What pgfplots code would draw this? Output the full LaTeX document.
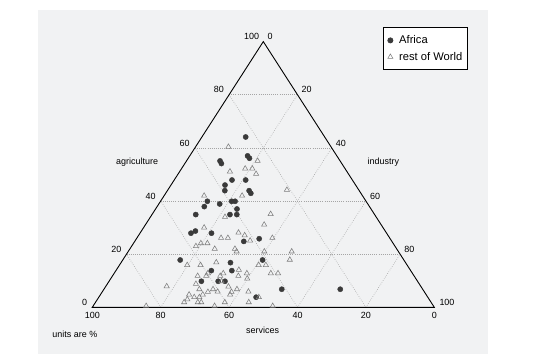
\documentclass[border=0pt]{standalone}
\usepackage{pgfplots}
\pgfplotsset{compat=1.18}
\usepackage{pgfplotstable}
\usepackage{fontspec}
\setmainfont{Liberation Sans}
\definecolor{panel}{RGB}{241,242,243}
\definecolor{afr}{RGB}{58,58,58}
\definecolor{rw}{RGB}{125,125,125}
\definecolor{gridc}{RGB}{165,165,165}
\tikzset{lab/.style={font=\fontsize{9}{10}\selectfont, inner sep=0pt},
  grd/.style={gridc, line width=0.6bp, dash pattern=on 0.6bp off 1.5bp}}

% agriculture (%), industry (%) ; services = 100 - agr - ind
\pgfplotstableread{
agr ind
64.1 12.8
57.0 16.9
56.1 17.9
55.1 9.8
54.1 10.7
47.9 16.9
47.9 20.9
46.0 15.8
43.9 16.8
43.9 23.9
42.9 24.9
39.9 13.7
37.9 13.8
38.9 17.8
39.9 20.8
39.9 21.8
37.0 23.8
34.9 24.8
34.9 22.8
34.9 12.8
28.7 15.8
27.9 14.9
27.9 20.9
25.8 35.9
24.8 31.9
17.8 16.8
17.8 40.9
16.8 32.0
13.8 33.9
13.8 27.9
9.8 27.0
9.8 31.9
9.8 33.9
6.8 52.0
6.8 69.1
3.8 46.0
}\africa

\pgfplotstableread{
agr ind
60.4 9.6
55.1 20.8
51.1 14.7
52.2 18.6
52.2 20.7
50.2 22.8
44.2 34.8
42.0 11.7
42.0 22.8
35.1 34.6
34.0 21.8
31.1 34.7
30.0 17.7
28.1 28.7
27.1 31.0
26.1 24.6
26.1 26.6
26.1 39.6
25.1 33.6
24.1 19.7
24.1 21.6
23.0 18.8
22.0 24.8
22.0 30.7
21.0 31.7
21.0 39.8
21.0 47.8
17.9 48.8
15.9 19.8
15.9 23.7
16.9 27.8
15.9 40.7
15.9 42.8
14.1 35.8
12.8 27.4
11.8 27.4
12.8 31.9
12.8 38.8
11.8 31.5
11.8 24.9
11.8 36.8
10.8 39.9
12.8 45.8
12.8 47.9
7.9 17.8
8.8 25.9
7.8 35.9
6.8 31.9
5.9 33.7
6.8 38.9
6.8 27.9
5.9 42.7
4.8 37.9
5.8 37.8
5.8 30.9
4.8 29.9
4.8 25.9
3.8 27.9
3.8 29.4
3.8 46.8
3.0 26.3
1.9 25.9
1.9 29.9
1.9 30.9
1.9 37.8
1.9 44.8
0.5 15.5
0.5 35.5
0.5 52.5
9.8 32.9
}\restworld

\begin{document}
\begin{tikzpicture}
\path (-92.3bp,-56.7bp) rectangle (447.7bp,307.3bp);
\fill[panel] (-54.3bp,-46.7bp) rectangle (395.7bp,297.3bp);
\begin{axis}[
  at={(0,0)}, anchor=south west,
  x=3.42bp, y=2.657bp,
  xmin=0, xmax=100, ymin=0, ymax=100,
  hide axis, clip=false,
  legend style={at={(0.849,1.054)}, anchor=north west, draw=black, line width=0.7bp,
    fill=white, font=\fontsize{11.2}{13}\selectfont, inner xsep=3bp, inner ysep=6bp,
    row sep=3bp, nodes={inner sep=2bp}},
  legend cell align=left,
  legend image code/.code={\path (0bp,0bp) (10.5bp,0bp); \draw[#1] plot coordinates {(4bp,0bp)};},
]
% grid
\draw[grd] (axis cs:10,20) -- (axis cs:90,20);
\draw[grd] (axis cs:20,40) -- (axis cs:80,40);
\draw[grd] (axis cs:30,60) -- (axis cs:70,60);
\draw[grd] (axis cs:40,80) -- (axis cs:60,80);
\draw[grd] (axis cs:20,0) -- (axis cs:60,80);
\draw[grd] (axis cs:40,0) -- (axis cs:70,60);
\draw[grd] (axis cs:60,0) -- (axis cs:80,40);
\draw[grd] (axis cs:80,0) -- (axis cs:90,20);
\draw[grd] (axis cs:80,0) -- (axis cs:40,80);
\draw[grd] (axis cs:60,0) -- (axis cs:30,60);
\draw[grd] (axis cs:40,0) -- (axis cs:20,40);
\draw[grd] (axis cs:20,0) -- (axis cs:10,20);
% frame
\draw[black, line width=0.9bp, line join=miter] (axis cs:0,0) -- (axis cs:100,0) -- (axis cs:50,100) -- cycle;
% agriculture ticks (left side)
\node[lab, anchor=south east, xshift=-5bp, yshift=1.5bp] at (axis cs:0,0) {0};
\node[lab, anchor=south east, xshift=-5bp, yshift=1.5bp] at (axis cs:10,20) {20};
\node[lab, anchor=south east, xshift=-5bp, yshift=1.5bp] at (axis cs:20,40) {40};
\node[lab, anchor=south east, xshift=-5bp, yshift=1.5bp] at (axis cs:30,60) {60};
\node[lab, anchor=south east, xshift=-5bp, yshift=1.5bp] at (axis cs:40,80) {80};
\node[lab, anchor=south east, xshift=-4bp, yshift=2bp] at (axis cs:50,100) {100};
% industry ticks (right side)
\node[lab, anchor=south west, xshift=4bp, yshift=2bp] at (axis cs:50,100) {0};
\node[lab, anchor=south west, xshift=4bp, yshift=1.5bp] at (axis cs:60,80) {20};
\node[lab, anchor=south west, xshift=4bp, yshift=1.5bp] at (axis cs:70,60) {40};
\node[lab, anchor=south west, xshift=4bp, yshift=1.5bp] at (axis cs:80,40) {60};
\node[lab, anchor=south west, xshift=4bp, yshift=1.5bp] at (axis cs:90,20) {80};
\node[lab, anchor=south west, xshift=5bp, yshift=1.5bp] at (axis cs:100,0) {100};
% services ticks (bottom)
\node[lab, anchor=north, yshift=-5bp] at (axis cs:0,0) {100};
\node[lab, anchor=north, yshift=-5bp] at (axis cs:20,0) {80};
\node[lab, anchor=north, yshift=-5bp] at (axis cs:40,0) {60};
\node[lab, anchor=north, yshift=-5bp] at (axis cs:60,0) {40};
\node[lab, anchor=north, yshift=-5bp] at (axis cs:80,0) {20};
\node[lab, anchor=north, yshift=-5bp] at (axis cs:100,0) {0};
% titles
\node[lab] at (axis cs:13.1,54.8) {agriculture};
\node[lab] at (axis cs:85.1,54.8) {industry};
\node[lab] at (axis cs:49.8,-8.5) {services};
\node[lab, anchor=west] at (axis cs:-11.7,-10.05) {units are \%};
% data
\addplot[only marks, mark=*, mark size=2.6bp, color=afr]
  table[x expr=\thisrow{ind}+0.5*\thisrow{agr}, y=agr] {\africa};
\addlegendentry{Africa}
\addplot[only marks, mark=triangle, mark size=3bp, color=rw, mark options={line width=0.55bp}]
  table[x expr=\thisrow{ind}+0.5*\thisrow{agr}, y=agr] {\restworld};
\addlegendentry{rest of World\hspace{4bp}}
\end{axis}
\end{tikzpicture}
\end{document}
